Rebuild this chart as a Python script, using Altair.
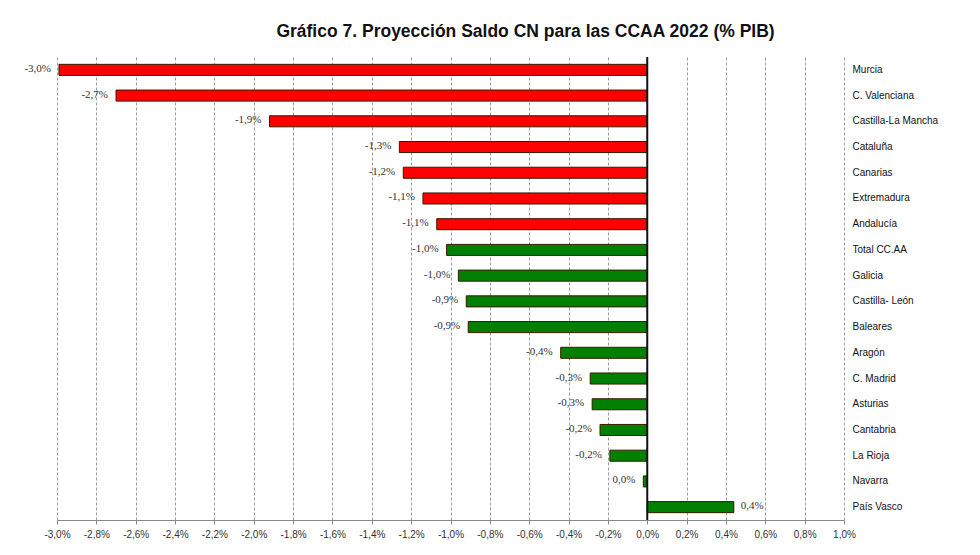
import altair as alt
import pandas as pd

# Regions, top to bottom, with their projected 2022 balance (% of GDP)
regiones = [
    "Murcia", "C. Valenciana", "Castilla-La Mancha", "Cataluña", "Canarias",
    "Extremadura", "Andalucía", "Total CC.AA", "Galicia", "Castilla- León",
    "Baleares", "Aragón", "C. Madrid", "Asturias", "Cantabria", "La Rioja",
    "Navarra", "País Vasco",
]
saldo = [
    -2.99, -2.70, -1.92, -1.26, -1.24,
    -1.14, -1.07, -1.02, -0.96, -0.92,
    -0.91, -0.44, -0.29, -0.28, -0.24, -0.19,
    -0.02, 0.44,
]
# red = regions above the aggregate deficit, green = the rest
grupo = [
    "rojo", "rojo", "rojo", "rojo", "rojo",
    "rojo", "rojo", "verde", "verde", "verde",
    "verde", "verde", "verde", "verde", "verde", "verde",
    "verde", "verde",
]
ticks_x = [-3.0, -2.8, -2.6, -2.4, -2.2, -2.0, -1.8, -1.6, -1.4, -1.2, -1.0,
           -0.8, -0.6, -0.4, -0.2, 0.0, 0.2, 0.4, 0.6, 0.8, 1.0]


def etiqueta(v):
    r = round(v, 1) + 0.0
    return f"{r:.1f}".replace(".", ",") + "%"


df = pd.DataFrame({
    "region": regiones,
    "saldo": saldo,
    "grupo": grupo,
    "etiqueta": [etiqueta(v) for v in saldo],
})

x_axis = alt.Axis(
    values=ticks_x, tickCount=len(ticks_x) + 4, labelOverlap=False,
    labelFlush=False,
    labelExpr="replace(replace(format(datum.value, '.1f'), '.', ','), '\u2212', '-') + '%'",
    labelFont="Liberation Sans", labelFontSize=10, labelColor="#333",
    labelPadding=5, tickSize=4, tickColor="#888",
    domainColor="#888", domainWidth=1,
    grid=True, gridDash=[3, 2], gridColor="#9a9a9a", gridWidth=1,
)
y_axis = alt.Axis(orient="right", domain=False, ticks=False,
                  labelPadding=8, labelFont="Liberation Sans", labelFontSize=10,
                  labelColor="#111", grid=False)

x_scale = alt.Scale(domain=[-3.0, 1.0], nice=False, zero=False)
y_scale = alt.Scale(paddingInner=0.57, paddingOuter=0.285)

x_enc = alt.X("saldo:Q", scale=x_scale, title=None, axis=x_axis)
y_enc = alt.Y("region:N", sort=regiones, scale=y_scale, title=None, axis=y_axis)

base = alt.Chart(df)

bars = base.mark_bar(stroke="#3a1a00", strokeWidth=1).encode(
    x=x_enc,
    x2=alt.datum(0),
    y=y_enc,
    color=alt.Color("grupo:N", scale=alt.Scale(domain=["rojo", "verde"],
                                                range=["#ff0000", "#008000"]),
                    legend=None),
)

zero_line = alt.Chart(pd.DataFrame({"saldo": [0.0]})).mark_rule(
    color="#111", strokeWidth=2
).encode(x=x_enc)

text_neg = base.transform_filter("datum.saldo < 0").mark_text(
    align="right", baseline="middle", dx=-8, dy=-1,
    font="Liberation Serif", fontSize=11, color="#333",
).encode(x=x_enc, y=y_enc, text="etiqueta:N")

text_pos = base.transform_filter("datum.saldo >= 0").mark_text(
    align="left", baseline="middle", dx=7, dy=-1,
    font="Liberation Serif", fontSize=11, color="#333",
).encode(x=x_enc, y=y_enc, text="etiqueta:N")

chart = alt.layer(bars, zero_line, text_neg, text_pos).properties(
    width=787,
    height=463,
    title=alt.TitleParams(
        "Gráfico 7. Proyección Saldo CN para las CCAA 2022 (% PIB)",
        font="Liberation Sans", fontSize=17.5, fontWeight="bold", color="#111",
        anchor="middle", dx=75, offset=16,
    ),
    padding={"left": 57, "top": 57, "right": 136, "bottom": 35},
    autosize=alt.AutoSizeParams(type="none"),
    background="white",
).configure_view(stroke=None)

chart.save("out.html", embed_options={"renderer": "svg", "actions": False})
